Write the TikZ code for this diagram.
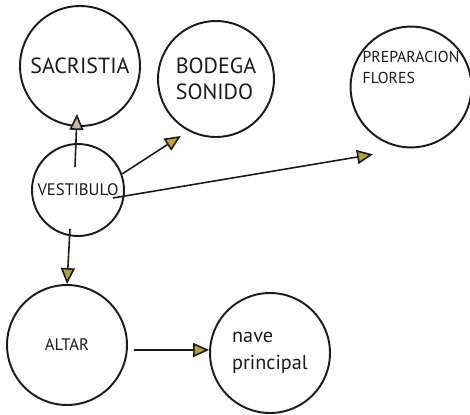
\documentclass[tikz,border=0pt]{standalone}
\usepackage{fontspec}
\setmainfont{PT Sans}
\usepackage{tikz}
\usetikzlibrary{arrows.meta, positioning}
\definecolor{trait}{HTML}{1A1A1A}
\definecolor{ocre}{HTML}{C9A227}
\definecolor{olive}{HTML}{B3A033}
\definecolor{sable}{HTML}{CDB5A2}

\begin{document}
\begin{tikzpicture}[x=0.02cm, y=-0.02cm,
    salle/.style={circle, draw=trait, line width=1.1pt, inner sep=0pt, align=left, text=trait},
    fleche/.style={draw=trait, line width=0.9pt, -{Triangle[length=0.32cm, width=0.28cm, fill=#1]}},
    fleche/.default=olive]
    \useasboundingbox (0,0) rectangle (470,415);

    % Salles
    \node[salle, minimum size=2.4cm, font=\fontsize{12.5}{13}\selectfont] (sac) at (80,66) {SACRISTIA};
    \node[salle, minimum size=2.32cm, font=\fontsize{12.5}{15}\selectfont] (bod) at (216,79) {BODEGA\\SONIDO};
    \node[salle, minimum size=2.4cm, font=\fontsize{9}{12}\selectfont] (prep) at (411,87) {PREPARACION\\FLORES\\[1.2em]};
    \node[salle, minimum size=1.84cm, font=\fontsize{9.5}{10}\selectfont] (vest) at (78,190) {VESTIBULO};
    \node[salle, minimum size=2.4cm, font=\fontsize{9.5}{10}\selectfont] (alt) at (67,345) {ALTAR};
    \node[salle, minimum size=2.4cm, font=\fontsize{11.5}{15}\selectfont] (nave) at (270,353) {nave\\principal};

    % Passages
    \draw[fleche=sable] ([xshift=-0.06cm, yshift=-0.48cm]vest.north) -- ([xshift=-0.06cm, yshift=0.26cm]sac.south);
    \draw[fleche=ocre] (vest.20) -- ([xshift=-0.08cm, yshift=-0.14cm]bod.238);
    \draw[fleche] ([xshift=-0.24cm, yshift=-0.16cm]vest.east) -- ([xshift=-0.76cm, yshift=-0.12cm]prep.south);
    \draw[fleche] ([xshift=-0.16cm, yshift=0.16cm]vest.south) -- (alt.north);
    \draw[fleche] ([xshift=0.12cm, yshift=-0.1cm]alt.east) -- ([yshift=0.06cm]nave.west);
  \end{tikzpicture}
\end{document}
